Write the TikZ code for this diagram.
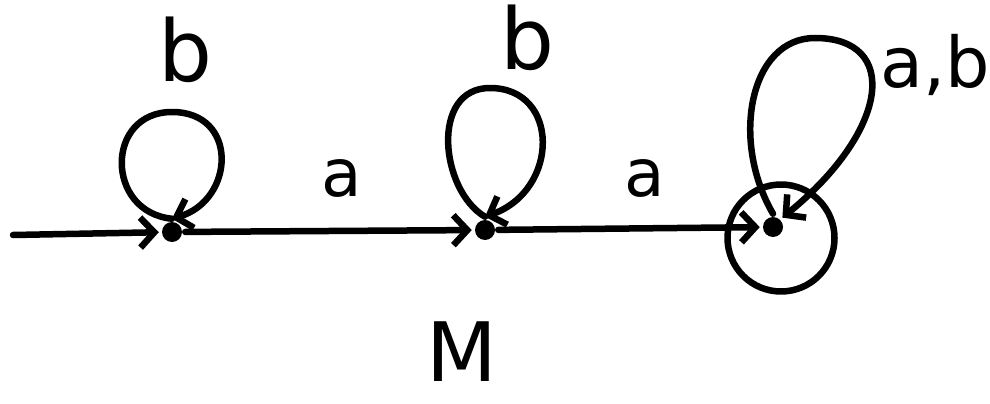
\documentclass[tikz,border=0pt]{standalone}
\usepackage{fontspec}
\setmainfont{DejaVu Sans}
\usetikzlibrary{arrows.meta}
\begin{document}
\begin{tikzpicture}[x=1pt,y=-1pt,
  line width=6.5pt, line cap=round, line join=round,
  statedot/.style={circle,fill=black,inner sep=0pt,minimum size=20pt},
  ring/.style={circle,draw,line width=6.5pt,inner sep=0pt,minimum size=107pt},
  tr/.style={-{Straight Barb[length=14pt,width=30pt,line width=6.5pt]}},
  lbl/.style={inner sep=0pt}]
\useasboundingbox (0,0) rectangle (990,404);
\node[statedot] (q1) at (172,232) {};
\node[statedot] (q2) at (485,230) {};
\node[statedot] (q3) at (773,227) {};
\node[ring] (q3r) at (781,238) {};
\coordinate (start) at (13,235);
% transitions
\draw[tr] (start) -- (q1);
\draw[tr] (q1) -- (q2);
\draw[tr] (q2) -- (q3);
% loops
\draw[tr] (q1.north) .. controls (105,212) and (105,112) .. (172,112)
          .. controls (239,112) and (235,200) .. (q1.north);
\draw[tr] (q2.north) .. controls (440,190) and (430,88) .. (490,88)
          .. controls (560,88) and (560,190) .. (q2.north);
\draw[tr] (q3.north) .. controls (730,140) and (750,38) .. (815,38)
          .. controls (900,38) and (890,130) .. (q3.north east);
% labels
\node[lbl,font=\fontsize{85}{90}\selectfont] (l1) at (185,50) {b};
\node[lbl,font=\fontsize{85}{90}\selectfont] (l2) at (527,38) {b};
\node[lbl,font=\fontsize{70}{74}\selectfont] (l3) at (935,65) {a,b};
\node[lbl,font=\fontsize{66}{70}\selectfont] (l4) at (342,178) {a};
\node[lbl,font=\fontsize{66}{70}\selectfont] (l5) at (645,178) {a};
\node[lbl,font=\fontsize{82}{86}\selectfont] (l6) at (462,352) {M};
\end{tikzpicture}
\end{document}
